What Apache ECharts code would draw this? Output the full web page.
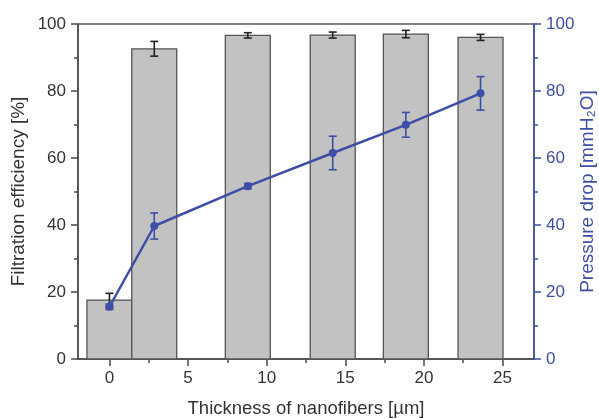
<!DOCTYPE html>
<html>
<head>
<meta charset="utf-8">
<script src="https://cdn.jsdelivr.net/npm/echarts@6/dist/echarts.min.js"></script>
<style>
  html, body { margin: 0; padding: 0; background: #fff; }
  #chart { width: 599px; height: 419px; }
</style>
</head>
<body>
<div id="chart"></div>
<script>
// Nanofiber thickness (µm) at each measurement
const thickness = [0, 2.85, 8.8, 14.2, 18.85, 23.6];
// Filtration efficiency (%) and its error
const efficiency = [17.6, 92.6, 96.6, 96.7, 97.0, 96.0];
const efficiencyErr = [2.0, 2.2, 0.8, 0.9, 1.1, 0.9];
// Pressure drop (mmH2O) and its error
const pressure = [15.6, 39.7, 51.6, 61.5, 69.9, 79.3];
const pressureErr = [0.8, 3.9, 0.8, 5.0, 3.7, 5.0];
// Axis ticks
const xTicks = [0, 5, 10, 15, 20, 25];
const xMinorTicks = [2.5, 7.5, 12.5, 17.5, 22.5];

const BAR_HALF = 1.43;       // half bar width in µm units
const CAP = 4;               // half error cap width in px
const BLUE = '#3d4ea6';
const DARK = '#4a4a4a';
const FONT = 'Liberation Sans, Arial, sans-serif';

const chart = echarts.init(document.getElementById('chart'), null, { renderer: 'canvas' });

function errorBars(color, yIndex, xs, ys, es) {
  return {
    type: 'custom',
    yAxisIndex: yIndex,
    z: 5,
    data: xs.map((x, i) => [x, ys[i], es[i]]),
    renderItem: function (params, api) {
      const x = api.value(0), y = api.value(1), e = api.value(2);
      const hi = api.coord([x, y + e]);
      const lo = api.coord([x, y - e]);
      const st = { stroke: color, lineWidth: 1.6 };
      return {
        type: 'group',
        children: [
          { type: 'line', shape: { x1: hi[0], y1: hi[1], x2: lo[0], y2: lo[1] }, style: st },
          { type: 'line', shape: { x1: hi[0] - CAP, y1: hi[1], x2: hi[0] + CAP, y2: hi[1] }, style: st },
          { type: 'line', shape: { x1: lo[0] - CAP, y1: lo[1], x2: lo[0] + CAP, y2: lo[1] }, style: st }
        ]
      };
    }
  };
}

const option = {
  animation: false,
  grid: {
    left: 78, right: 65, top: 24, bottom: 60,
    containLabel: false,
    outerBoundsMode: 'none',
    show: true, borderColor: '#5a5a5a', borderWidth: 1.5
  },
  xAxis: [
    {
      type: 'value', min: -2, max: 27,
      name: 'Thickness of nanofibers [\u00b5m]',
      nameLocation: 'middle', nameGap: 40, nameMoveOverlap: false,
      nameTextStyle: { fontFamily: FONT, fontSize: 18.5, color: '#333' },
      axisLine: { show: true, onZero: false, lineStyle: { color: DARK, width: 1.5 } },
      axisTick: { show: true, length: 7, customValues: xTicks, lineStyle: { color: DARK, width: 1.5 } },
      axisLabel: { customValues: xTicks, margin: 11, fontFamily: FONT, fontSize: 17, color: '#333' },
      splitLine: { show: false }
    },
    {
      type: 'value', min: -2, max: 27, position: 'bottom',
      axisLine: { show: false, onZero: false },
      axisTick: { show: true, length: 4, customValues: xMinorTicks, lineStyle: { color: DARK, width: 1.5 } },
      axisLabel: { show: false },
      splitLine: { show: false }
    }
  ],
  yAxis: [
    {
      type: 'value', min: 0, max: 100, interval: 20, position: 'left',
      name: 'Filtration efficiency [%]',
      nameLocation: 'middle', nameGap: 50, nameMoveOverlap: false,
      nameTextStyle: { fontFamily: FONT, fontSize: 19, color: '#333' },
      axisLine: { show: true, onZero: false, lineStyle: { color: DARK, width: 1.5 } },
      axisTick: { show: true, length: 7, lineStyle: { color: DARK, width: 1.5 } },
      minorTick: { show: true, splitNumber: 2, length: 4, lineStyle: { color: DARK, width: 1.5 } },
      axisLabel: { margin: 12, fontFamily: FONT, fontSize: 17, color: '#333' },
      splitLine: { show: false }
    },
    {
      type: 'value', min: 0, max: 100, interval: 20, position: 'right',
      name: 'Pressure drop [mmH\u2082O]',
      nameLocation: 'middle', nameGap: 44, nameRotate: 90, nameMoveOverlap: false,
      nameTextStyle: { fontFamily: FONT, fontSize: 19, color: BLUE },
      axisLine: { show: true, onZero: false, lineStyle: { color: BLUE, width: 1.5 } },
      axisTick: { show: true, length: 7, lineStyle: { color: BLUE, width: 1.5 } },
      minorTick: { show: true, splitNumber: 2, length: 4, lineStyle: { color: BLUE, width: 1.5 } },
      axisLabel: { margin: 12, fontFamily: FONT, fontSize: 17, color: BLUE },
      splitLine: { show: false }
    }
  ],
  series: [
    {
      type: 'custom',
      yAxisIndex: 0,
      z: 2,
      data: thickness.map((x, i) => [x, efficiency[i]]),
      renderItem: function (params, api) {
        const x = api.value(0), y = api.value(1);
        const tl = api.coord([x - BAR_HALF, y]);
        const br = api.coord([x + BAR_HALF, 0]);
        return {
          type: 'rect',
          shape: { x: tl[0], y: tl[1], width: br[0] - tl[0], height: br[1] - tl[1] },
          style: { fill: '#c2c2c2', stroke: '#555', lineWidth: 1.3 }
        };
      }
    },
    errorBars('#222', 0, thickness, efficiency, efficiencyErr),
    {
      type: 'line',
      yAxisIndex: 1,
      z: 6,
      data: thickness.map((x, i) => [x, pressure[i]]),
      symbol: 'circle',
      symbolSize: 8,
      itemStyle: { color: BLUE },
      lineStyle: { color: BLUE, width: 2.5 }
    },
    errorBars(BLUE, 1, thickness, pressure, pressureErr)
  ]
};

chart.setOption(option);
</script>
</body>
</html>
